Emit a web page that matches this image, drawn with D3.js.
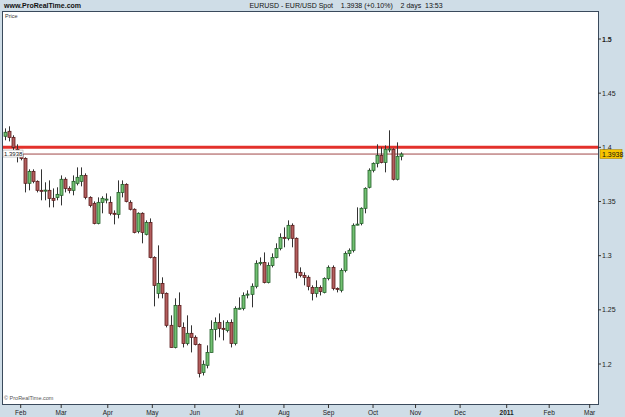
<!DOCTYPE html>
<html>
<head>
    <meta charset="utf-8">
    <title>EURUSD 2 days</title>
    <script type="text/javascript" src="https://cdn.jsdelivr.net/npm/d3@7"></script>
    <style>
      body { margin: 0; background: #cfdde7; }
      svg { display: block; font-family: "Liberation Sans", Arial, sans-serif; }
    </style>
</head>
<body>
<script type="text/javascript">

        // 2-day candles, EUR/USD
        var opens  = [1.4102,1.4148,1.4092,1.3982,1.3935,1.3898,1.3668,1.3778,1.3686,1.3603,
                      1.3600,1.3603,1.3529,1.3538,1.3557,1.3705,1.3621,1.3603,1.3668,1.3686,
                      1.3741,1.3538,1.3483,1.3298,1.3492,1.3520,1.3492,1.3391,1.3381,1.3584,
                      1.3658,1.3492,1.3428,1.3224,1.3391,1.3197,1.3307,1.2984,1.2652,1.2744,
                      1.2652,1.2357,1.2153,1.2541,1.2338,1.2190,1.2283,1.2246,1.2181,1.1922,
                      1.1988,1.2107,1.2319,1.2384,1.2329,1.2310,1.2384,1.2190,1.2513,1.2513,
                      1.2643,1.2643,1.2717,1.2929,1.2938,1.2753,1.2910,1.2984,1.3067,1.3169,
                      1.3160,1.3280,1.3160,1.2846,1.2818,1.2800,1.2707,1.2652,1.2707,1.2661,
                      1.2790,1.2892,1.2698,1.2680,1.2864,1.3021,1.3049,1.3289,1.3298,1.3437,
                      1.3631,1.3788,1.3852,1.3926,1.3861,1.3982,1.3982,1.3705,1.3917];
        var highs  = [1.4175,1.4194,1.4111,1.4028,1.3954,1.3908,1.3797,1.3797,1.3695,1.3797,
                      1.3677,1.3695,1.3621,1.3631,1.3741,1.3723,1.3640,1.3741,1.3815,1.3815,
                      1.3760,1.3548,1.3501,1.3538,1.3548,1.3575,1.3548,1.3418,1.3695,1.3695,
                      1.3668,1.3511,1.3437,1.3400,1.3400,1.3326,1.3344,1.2994,1.3095,1.2800,
                      1.2661,1.2449,1.2606,1.2661,1.2384,1.2449,1.2357,1.2264,1.2190,1.2033,
                      1.2172,1.2403,1.2430,1.2467,1.2403,1.2403,1.2412,1.2532,1.2615,1.2661,
                      1.2680,1.2744,1.2957,1.2984,1.3030,1.2938,1.3021,1.3114,1.3206,1.3261,
                      1.3326,1.3298,1.3169,1.2892,1.2846,1.2818,1.2726,1.2772,1.2726,1.2800,
                      1.2910,1.2910,1.2707,1.2883,1.3040,1.3067,1.3298,1.3446,1.3446,1.3631,
                      1.3806,1.3861,1.4028,1.4000,1.4018,1.4157,1.3991,1.4046,1.3954];
        var lows   = [1.4065,1.4055,1.3972,1.3861,1.3880,1.3584,1.3603,1.3668,1.3584,1.3511,
                      1.3511,1.3446,1.3446,1.3511,1.3464,1.3584,1.3575,1.3557,1.3649,1.3640,
                      1.3520,1.3446,1.3289,1.3289,1.3391,1.3483,1.3372,1.3289,1.3344,1.3538,
                      1.3492,1.3418,1.3206,1.3206,1.3114,1.3187,1.2975,1.2532,1.2606,1.2606,
                      1.2338,1.2153,1.2144,1.2338,1.2153,1.2172,1.2107,1.2172,1.1876,1.1894,
                      1.1960,1.2107,1.2218,1.2246,1.2218,1.2292,1.2153,1.2172,1.2504,1.2495,
                      1.2606,1.2523,1.2698,1.2910,1.2744,1.2744,1.2892,1.2975,1.3049,1.3077,
                      1.3141,1.3077,1.2790,1.2800,1.2726,1.2680,1.2587,1.2615,1.2633,1.2652,
                      1.2772,1.2680,1.2661,1.2661,1.2846,1.2994,1.3030,1.3280,1.3280,1.3391,
                      1.3621,1.3769,1.3815,1.3852,1.3769,1.3954,1.3695,1.3695,1.3880];
        var closes = [1.4139,1.4092,1.4000,1.3945,1.3898,1.3668,1.3778,1.3686,1.3603,1.3600,
                      1.3605,1.3529,1.3511,1.3566,1.3705,1.3621,1.3603,1.3686,1.3723,1.3741,
                      1.3538,1.3464,1.3298,1.3492,1.3529,1.3522,1.3391,1.3389,1.3584,1.3658,
                      1.3501,1.3428,1.3215,1.3391,1.3215,1.3307,1.2984,1.2726,1.2744,1.2652,
                      1.2357,1.2153,1.2541,1.2347,1.2190,1.2283,1.2246,1.2181,1.1913,1.1997,
                      1.2107,1.2319,1.2384,1.2329,1.2327,1.2384,1.2190,1.2513,1.2515,1.2633,
                      1.2645,1.2717,1.2929,1.2938,1.2753,1.2910,1.2984,1.3067,1.3169,1.3167,
                      1.3280,1.3160,1.2846,1.2818,1.2800,1.2717,1.2652,1.2707,1.2670,1.2790,
                      1.2892,1.2698,1.2696,1.2864,1.3021,1.3049,1.3280,1.3291,1.3437,1.3621,
                      1.3788,1.3852,1.3926,1.3861,1.3982,1.3985,1.3705,1.3917,1.3938];

        var firstCandleDay = 13;   // weekday count from 1 Jan 2010

        var monthDates  = ["2010-02-01","2010-03-01","2010-04-01","2010-05-03","2010-06-01","2010-07-01","2010-08-02",
                           "2010-09-01","2010-10-01","2010-11-01","2010-12-01","2011-01-03","2011-02-01","2011-03-01"];
        var monthLabels = ["Feb","Mar","Apr","May","Jun","Jul","Aug","Sep","Oct","Nov","Dec","2011","Feb","Mar"];

        var priceTicks = [1.2, 1.25, 1.3, 1.35, 1.4, 1.45, 1.5];
        var resistance = 1.4;
        var lastPrice = 1.3938;

        var width = 625, height = 417;
        var plotLeft = 2, plotRight = 598, plotTop = 11, plotBottom = 404;

        var svg = d3.select("body").append("svg").attr("width", width).attr("height", height);

        function weekdayIndex(s){
            var start = new Date(2010, 0, 1);
            var p = s.split("-");
            var end = new Date(+p[0], +p[1]-1, +p[2]);
            var n = 0;
            for (var d = new Date(start); d < end; d.setDate(d.getDate()+1)) {
                var w = d.getDay();
                if (w != 0 && w != 6) n++;
            }
            return n;
        }

        var x = d3.scaleLinear().domain([21, 302]).range([20.7, 589.7]);
        var y = d3.scaleLinear().domain([1.2, 1.5]).range([364, 39]);

        // top bar texts
        svg.append("text").attr("x", 4).attr("y", 8).attr("font-size", 7).attr("fill", "#111")
            .attr("font-weight", "bold").text("www.ProRealTime.com");
        svg.append("text").attr("x", 346).attr("y", 8).attr("font-size", 7).attr("fill", "#111")
            .attr("text-anchor", "middle").attr("xml:space", "preserve")
            .text("EURUSD - EUR/USD Spot    1.3938 (+0.10%)    2 days  13:53");

        // plot box
        svg.append("rect").attr("x", plotLeft + 0.5).attr("y", plotTop + 0.5)
            .attr("width", plotRight - plotLeft).attr("height", plotBottom - plotTop)
            .attr("fill", "#ffffff").attr("stroke", "#3a4a5c").attr("stroke-width", 1);

        svg.append("text").attr("x", 5).attr("y", 18).attr("font-size", 5.5).attr("fill", "#333").text("Price");
        svg.append("text").attr("x", 4).attr("y", 400).attr("font-size", 5.5).attr("fill", "#555").text("\u00a9 ProRealTime.com");

        // right axis
        var yAxis = svg.append("g");
        priceTicks.forEach(function(t){
            yAxis.append("line").attr("x1", plotRight).attr("x2", plotRight + 3)
                .attr("y1", y(t)).attr("y2", y(t)).attr("stroke", "#333");
            yAxis.append("text").attr("x", plotRight + 4).attr("y", y(t) + 2.5)
                .attr("font-size", 7).attr("fill", "#222")
                .attr("font-weight", t == 1.5 ? "bold" : "normal")
                .text(d3.format("")(t));
        });

        // bottom axis
        var xAxis = svg.append("g");
        monthDates.forEach(function(m, i){
            var px = x(weekdayIndex(m));
            xAxis.append("line").attr("x1", px).attr("x2", px).attr("y1", plotBottom).attr("y2", plotBottom + 4)
                .attr("stroke", "#333");
            xAxis.append("text").attr("x", px).attr("y", 415).attr("text-anchor", "middle")
                .attr("font-size", 6.5).attr("fill", "#222")
                .attr("font-weight", monthLabels[i] == "2011" ? "bold" : "normal")
                .text(monthLabels[i]);
        });

        // horizontal lines
        svg.append("line").attr("x1", plotLeft + 1).attr("x2", plotRight).attr("y1", y(resistance)).attr("y2", y(resistance))
            .attr("stroke", "#e3312b").attr("stroke-width", 3);
        svg.append("line").attr("x1", plotLeft + 1).attr("x2", plotRight).attr("y1", y(lastPrice)).attr("y2", y(lastPrice))
            .attr("stroke", "#a04848").attr("stroke-width", 1);

        // candles
        var candles = opens.map(function(o, i){
            return {o: o, h: highs[i], l: lows[i], c: closes[i], day: firstCandleDay + 2 * i};
        });

        var g = svg.append("g");
        g.selectAll("line.wick").data(candles).enter().append("line")
            .attr("class", "wick")
            .attr("x1", function(d){ return Math.round(x(d.day)) + 0.5; })
            .attr("x2", function(d){ return Math.round(x(d.day)) + 0.5; })
            .attr("y1", function(d){ return y(d.h); })
            .attr("y2", function(d){ return y(d.l); })
            .attr("stroke", "#333").attr("stroke-width", 1);

        g.selectAll("rect.body").data(candles).enter().append("rect")
            .attr("class", "body")
            .attr("x", function(d){ return Math.round(x(d.day)) - 1; })
            .attr("width", 3)
            .attr("y", function(d){ return y(Math.max(d.o, d.c)); })
            .attr("height", function(d){ return Math.max(1, Math.abs(y(d.o) - y(d.c))); })
            .attr("fill", function(d){ return d.c >= d.o ? "#72c072" : "#b35e5e"; })
            .attr("stroke", function(d){ return d.c >= d.o ? "#23602a" : "#5c1c1c"; })
            .attr("stroke-width", 0.8);

        // last price labels
        svg.append("rect").attr("x", 3).attr("y", y(lastPrice) - 4).attr("width", 20).attr("height", 7)
            .attr("fill", "#fff").attr("stroke", "#999").attr("stroke-width", 0.5);
        svg.append("text").attr("x", 4).attr("y", y(lastPrice) + 1.5).attr("font-size", 6).attr("fill", "#222")
            .text(d3.format(".4f")(lastPrice));
        svg.append("rect").attr("x", plotRight + 2).attr("y", y(lastPrice) - 4.5).attr("width", 22).attr("height", 9)
            .attr("fill", "#f6c500").attr("stroke", "#a07a00").attr("stroke-width", 0.5);
        svg.append("text").attr("x", plotRight + 4).attr("y", y(lastPrice) + 2.5).attr("font-size", 7).attr("fill", "#111")
            .text(d3.format(".4f")(lastPrice));

</script>
</body>
</html>
